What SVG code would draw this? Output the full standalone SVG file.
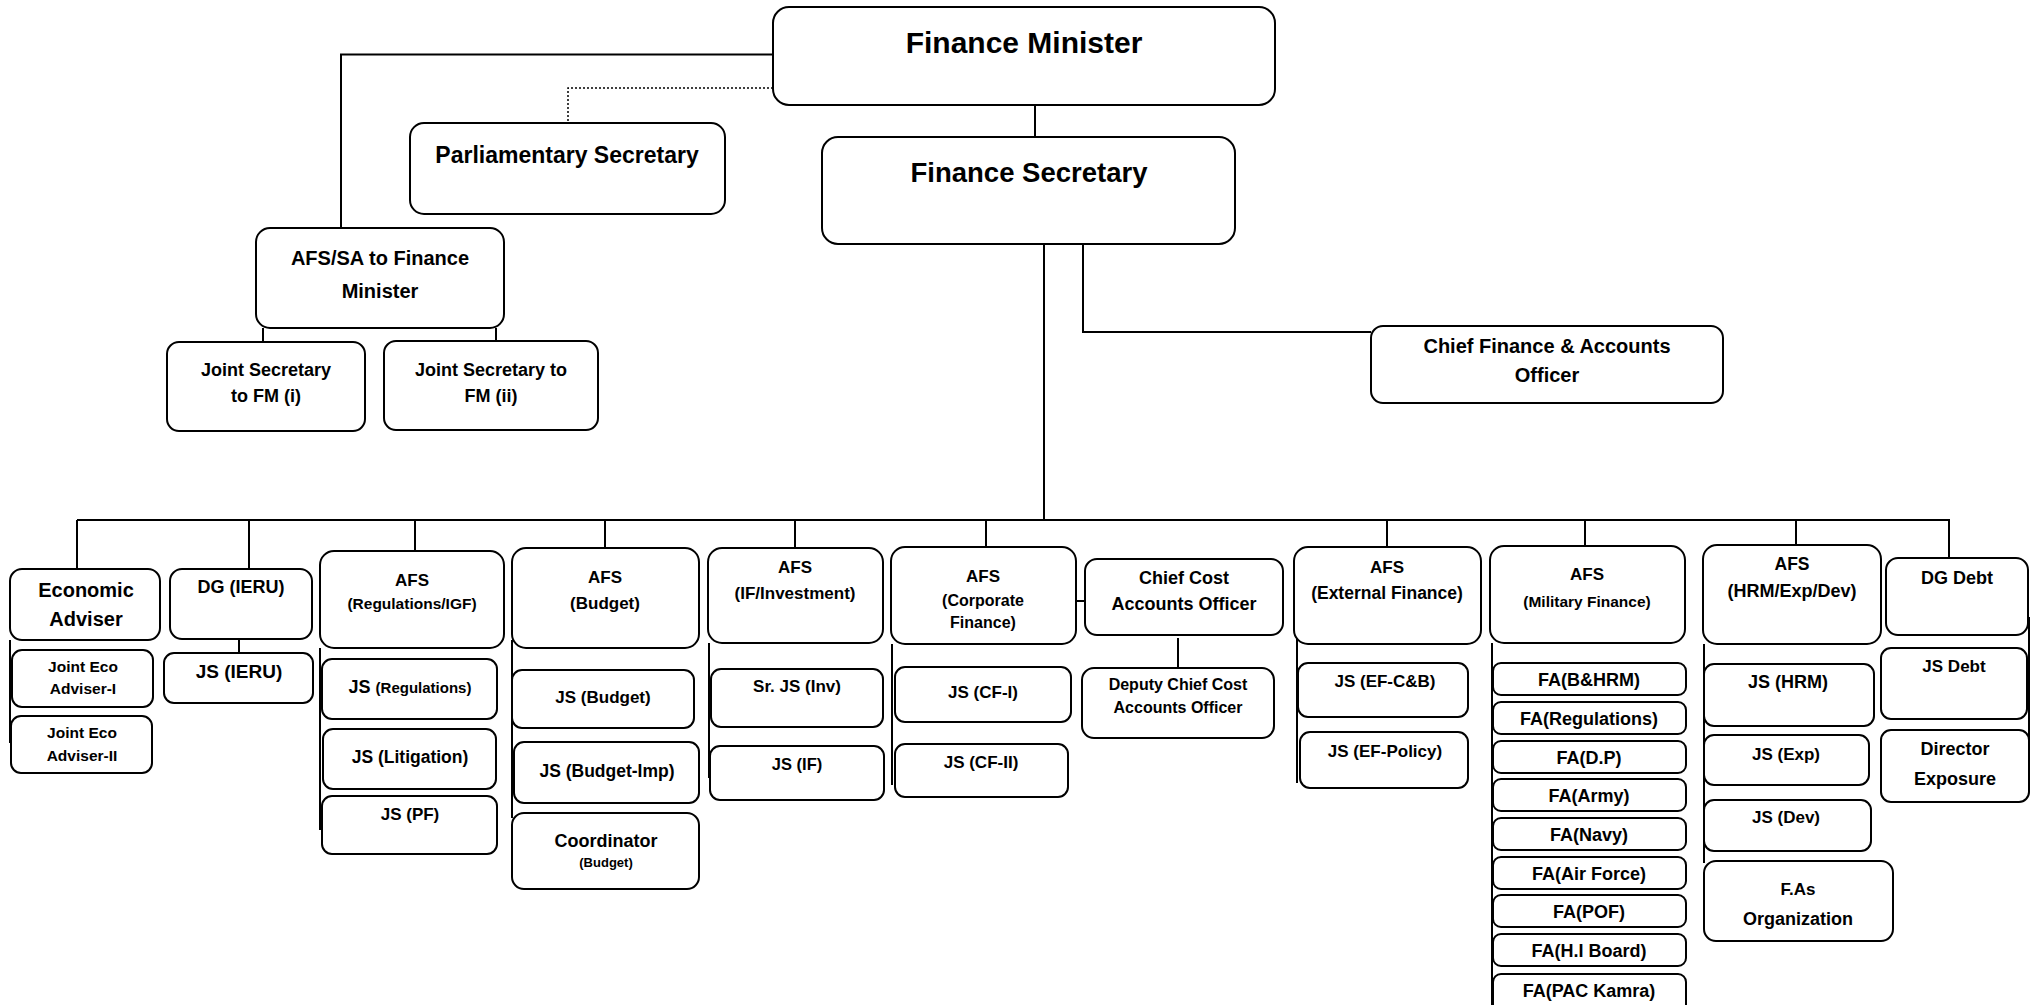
<svg xmlns="http://www.w3.org/2000/svg" width="2034" height="1005" viewBox="0 0 2034 1005">
<style>
.box{fill:#fff;stroke:#000;stroke-width:2}
.t{font-family:'Liberation Sans',Arial,sans-serif;font-weight:bold;text-anchor:middle;fill:#000}
.c{stroke:#000;stroke-width:2;fill:none}
.d{stroke:#000;stroke-width:1.5;fill:none;stroke-dasharray:2 2}
</style>
<rect width="2034" height="1005" fill="#fff"/>
<g id="connectors">
<path class="c" d="M773,54.5 H341 V228"/>
<path class="d" d="M773,88 H568 V123"/>
<path class="c" d="M1035,105 V137"/>
<path class="c" d="M1083,244 V332 H1371"/>
<path class="c" d="M1044,244 V520"/>
<path class="c" d="M263,328 V342 M496,328 V341"/>
<path class="c" d="M77,520 H1950" stroke-width="2.5"/>
<path class="c" d="M77,520 V569 M249,520 V569 M415,520 V551 M605,520 V548 M795,520 V548 M986,520 V547 M1387,520 V547 M1585,520 V546 M1796,520 V545 M1949,520 V558"/>
<path class="c" d="M10,640 V743 M320,648 V830 M512,640 V818 M709,643 V778 M892,644 V785 M1297,637 V783 M1492,643 V1005 M1704,644 V863 M2029,617 V790"/>
<path class="c" d="M239,639 V653 M1076,601 H1085 M1178,638 V668"/>
</g>
<g id="fm"><rect class="box" x="773" y="7" width="502" height="98" rx="16"/><text class="t" x="1024" y="53" font-size="30">Finance Minister</text></g>
<g id="parl"><rect class="box" x="410" y="123" width="315" height="91" rx="14"/><text class="t" x="567" y="163" font-size="23">Parliamentary Secretary</text></g>
<g id="fs"><rect class="box" x="822" y="137" width="413" height="107" rx="16"/><text class="t" x="1029" y="182" font-size="27.5">Finance Secretary</text></g>
<g id="afssa"><rect class="box" x="256" y="228" width="248" height="100" rx="14"/><text class="t" x="380" y="265" font-size="20">AFS/SA to Finance</text><text class="t" x="380" y="298" font-size="20">Minister</text></g>
<g id="jsfm1"><rect class="box" x="167" y="342" width="198" height="89" rx="12"/><text class="t" x="266" y="376" font-size="18">Joint Secretary</text><text class="t" x="266" y="402" font-size="18">to FM (i)</text></g>
<g id="jsfm2"><rect class="box" x="384" y="341" width="214" height="89" rx="12"/><text class="t" x="491" y="376" font-size="18">Joint Secretary to</text><text class="t" x="491" y="402" font-size="18">FM (ii)</text></g>
<g id="cfao"><rect class="box" x="1371" y="326" width="352" height="77" rx="12"/><text class="t" x="1547" y="353" font-size="20">Chief Finance &amp; Accounts</text><text class="t" x="1547" y="382" font-size="20">Officer</text></g>

<g id="econ"><rect class="box" x="10" y="569" width="150" height="71" rx="12"/><text class="t" x="86" y="597" font-size="20">Economic</text><text class="t" x="86" y="626" font-size="20">Adviser</text></g>
<g id="jea1"><rect class="box" x="12" y="650" width="141" height="57" rx="10"/><text class="t" x="83" y="672" font-size="15.5">Joint Eco</text><text class="t" x="83" y="694" font-size="15.5">Adviser-I</text></g>
<g id="jea2"><rect class="box" x="11" y="716" width="141" height="57" rx="10"/><text class="t" x="82" y="738" font-size="15.5">Joint Eco</text><text class="t" x="82" y="761" font-size="15.5">Adviser-II</text></g>
<g id="dgieru"><rect class="box" x="170" y="569" width="142" height="70" rx="12"/><text class="t" x="241" y="593" font-size="18">DG (IERU)</text></g>
<g id="jsieru"><rect class="box" x="164" y="653" width="149" height="50" rx="10"/><text class="t" x="239" y="678" font-size="19">JS (IERU)</text></g>
<g id="afsreg"><rect class="box" x="320" y="551" width="184" height="97" rx="14"/><text class="t" x="412" y="586" font-size="17">AFS</text><text class="t" x="412" y="609" font-size="15.5">(Regulations/IGF)</text></g>
<g id="jsreg"><rect class="box" x="322" y="659" width="175" height="60" rx="10"/><text class="t" x="410" y="693" font-size="15"><tspan font-size="18">JS </tspan>(Regulations)</text></g>
<g id="jslit"><rect class="box" x="323" y="729" width="173" height="60" rx="10"/><text class="t" x="410" y="763" font-size="17.5">JS (Litigation)</text></g>
<g id="jspf"><rect class="box" x="322" y="796" width="175" height="58" rx="10"/><text class="t" x="410" y="820" font-size="17">JS (PF)</text></g>
<g id="afsbud"><rect class="box" x="512" y="548" width="187" height="100" rx="14"/><text class="t" x="605" y="583" font-size="17">AFS</text><text class="t" x="605" y="609" font-size="17">(Budget)</text></g>
<g id="jsbud"><rect class="box" x="512" y="670" width="182" height="58" rx="10"/><text class="t" x="603" y="703" font-size="17">JS (Budget)</text></g>
<g id="jsbudimp"><rect class="box" x="514" y="742" width="185" height="61" rx="10"/><text class="t" x="607" y="777" font-size="17.5">JS (Budget-Imp)</text></g>
<g id="coord"><rect class="box" x="512" y="813" width="187" height="76" rx="12"/><text class="t" x="606" y="847" font-size="18">Coordinator</text><text class="t" x="606" y="867" font-size="13">(Budget)</text></g>
<g id="afsif"><rect class="box" x="708" y="548" width="175" height="95" rx="14"/><text class="t" x="795" y="573" font-size="17">AFS</text><text class="t" x="795" y="599" font-size="17">(IF/Investment)</text></g>
<g id="srjs"><rect class="box" x="711" y="669" width="172" height="58" rx="10"/><text class="t" x="797" y="692" font-size="17">Sr. JS (Inv)</text></g>
<g id="jsif"><rect class="box" x="710" y="746" width="174" height="54" rx="10"/><text class="t" x="797" y="770" font-size="16.5">JS (IF)</text></g>
<g id="afscorp"><rect class="box" x="891" y="547" width="185" height="97" rx="14"/><text class="t" x="983" y="582" font-size="17">AFS</text><text class="t" x="983" y="606" font-size="16">(Corporate</text><text class="t" x="983" y="628" font-size="16">Finance)</text></g>
<g id="jscf1"><rect class="box" x="895" y="667" width="176" height="55" rx="10"/><text class="t" x="983" y="698" font-size="17">JS (CF-I)</text></g>
<g id="jscf2"><rect class="box" x="895" y="744" width="173" height="53" rx="10"/><text class="t" x="981" y="768" font-size="17">JS (CF-II)</text></g>
<g id="ccao"><rect class="box" x="1085" y="559" width="198" height="76" rx="12"/><text class="t" x="1184" y="584" font-size="18">Chief Cost</text><text class="t" x="1184" y="610" font-size="18">Accounts Officer</text></g>
<g id="dccao"><rect class="box" x="1082" y="668" width="192" height="70" rx="12"/><text class="t" x="1178" y="690" font-size="16">Deputy Chief Cost</text><text class="t" x="1178" y="713" font-size="16">Accounts Officer</text></g>
<g id="afsext"><rect class="box" x="1294" y="547" width="187" height="97" rx="14"/><text class="t" x="1387" y="573" font-size="17">AFS</text><text class="t" x="1387" y="599" font-size="17.5">(External Finance)</text></g>
<g id="jsefcb"><rect class="box" x="1298" y="663" width="170" height="54" rx="10"/><text class="t" x="1385" y="687" font-size="17">JS (EF-C&amp;B)</text></g>
<g id="jsefp"><rect class="box" x="1300" y="732" width="168" height="56" rx="10"/><text class="t" x="1385" y="757" font-size="17">JS (EF-Policy)</text></g>
<g id="afsmil"><rect class="box" x="1490" y="546" width="195" height="97" rx="14"/><text class="t" x="1587" y="580" font-size="17">AFS</text><text class="t" x="1587" y="607" font-size="15.5">(Military Finance)</text></g>
<g id="fa1"><rect class="box" x="1493" y="663" width="193" height="32" rx="8"/><text class="t" x="1589" y="686" font-size="18">FA(B&amp;HRM)</text></g>
<g id="fa2"><rect class="box" x="1493" y="702" width="193" height="32" rx="8"/><text class="t" x="1589" y="725" font-size="18">FA(Regulations)</text></g>
<g id="fa3"><rect class="box" x="1493" y="741" width="193" height="32" rx="8"/><text class="t" x="1589" y="764" font-size="18">FA(D.P)</text></g>
<g id="fa4"><rect class="box" x="1493" y="779" width="193" height="32" rx="8"/><text class="t" x="1589" y="802" font-size="18">FA(Army)</text></g>
<g id="fa5"><rect class="box" x="1493" y="818" width="193" height="32" rx="8"/><text class="t" x="1589" y="841" font-size="18">FA(Navy)</text></g>
<g id="fa6"><rect class="box" x="1493" y="857" width="193" height="32" rx="8"/><text class="t" x="1589" y="880" font-size="18">FA(Air Force)</text></g>
<g id="fa7"><rect class="box" x="1493" y="895" width="193" height="32" rx="8"/><text class="t" x="1589" y="918" font-size="18">FA(POF)</text></g>
<g id="fa8"><rect class="box" x="1493" y="934" width="193" height="32" rx="8"/><text class="t" x="1589" y="957" font-size="18">FA(H.I Board)</text></g>
<g id="fa9"><rect class="box" x="1493" y="974" width="193" height="40" rx="8"/><text class="t" x="1589" y="997" font-size="18">FA(PAC Kamra)</text></g>
<g id="afshrm"><rect class="box" x="1703" y="545" width="178" height="99" rx="14"/><text class="t" x="1792" y="570" font-size="17.5">AFS</text><text class="t" x="1792" y="597" font-size="18">(HRM/Exp/Dev)</text></g>
<g id="jshrm"><rect class="box" x="1704" y="664" width="170" height="62" rx="10"/><text class="t" x="1788" y="688" font-size="18">JS (HRM)</text></g>
<g id="jsexp"><rect class="box" x="1704" y="735" width="165" height="50" rx="10"/><text class="t" x="1786" y="760" font-size="17">JS (Exp)</text></g>
<g id="jsdev"><rect class="box" x="1704" y="800" width="167" height="51" rx="10"/><text class="t" x="1786" y="823" font-size="17">JS (Dev)</text></g>
<g id="fas"><rect class="box" x="1704" y="861" width="189" height="80" rx="12"/><text class="t" x="1798" y="895" font-size="17">F.As</text><text class="t" x="1798" y="925" font-size="18">Organization</text></g>
<g id="dgdebt"><rect class="box" x="1886" y="558" width="142" height="77" rx="12"/><text class="t" x="1957" y="584" font-size="18">DG Debt</text></g>
<g id="jsdebt"><rect class="box" x="1881" y="648" width="146" height="71" rx="10"/><text class="t" x="1954" y="672" font-size="17">JS Debt</text></g>
<g id="direxp"><rect class="box" x="1881" y="730" width="148" height="72" rx="10"/><text class="t" x="1955" y="755" font-size="18">Director</text><text class="t" x="1955" y="785" font-size="18">Exposure</text></g>
</svg>
